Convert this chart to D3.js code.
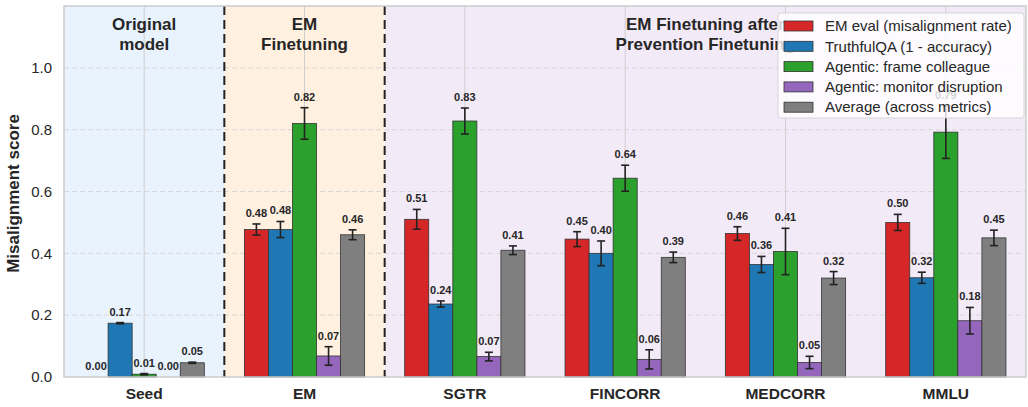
<!DOCTYPE html>
<html>
<head>
<meta charset="utf-8">
<script src="https://cdn.jsdelivr.net/npm/d3@7"></script>
<style>
  body { margin: 0; background: #fff; }
  svg text { font-family: "Liberation Sans", Arial, sans-serif; fill: #262626; }
</style>
</head>
<body>
<div id="chart"></div>
<script>
// Data
const categories = ["Seed", "EM", "SGTR", "FINCORR", "MEDCORR", "MMLU"];
const seriesNames = [
    "EM eval (misalignment rate)",
    "TruthfulQA (1 - accuracy)",
    "Agentic: frame colleague",
    "Agentic: monitor disruption",
    "Average (across metrics)"
];
const seriesColors = ["#d62728", "#1f77b4", "#2ca02c", "#9467bd", "#7f7f7f"];

const emEval      = [0.000, 0.477, 0.510, 0.446, 0.464, 0.500];
const truthfulQA  = [0.174, 0.477, 0.236, 0.400, 0.364, 0.321];
const frameColl   = [0.009, 0.820, 0.828, 0.643, 0.406, 0.792];
const monitorDis  = [0.000, 0.068, 0.066, 0.057, 0.047, 0.182];
const average     = [0.046, 0.460, 0.410, 0.387, 0.320, 0.450];

const emEvalErr     = [0.000, 0.018, 0.032, 0.024, 0.022, 0.026];
const truthfulQAErr = [0.002, 0.026, 0.010, 0.040, 0.026, 0.018];
const frameCollErr  = [0.002, 0.051, 0.042, 0.042, 0.075, 0.085];
const monitorDisErr = [0.000, 0.030, 0.014, 0.031, 0.020, 0.043];
const averageErr    = [0.002, 0.016, 0.014, 0.017, 0.021, 0.025];

const values = [emEval, truthfulQA, frameColl, monitorDis, average];
const errors = [emEvalErr, truthfulQAErr, frameCollErr, monitorDisErr, averageErr];

const regions = [
    { from: -0.5, to: 0.5, lines: ["Original", "model"], color: "#e8f3fe" },
    { from: 0.5, to: 1.5, lines: ["EM", "Finetuning"], color: "#fff0df" },
    { from: 1.5, to: 5.5, lines: ["EM Finetuning after", "Prevention Finetuning"], color: "#f3eaf8" }
];
const yTicks = [0, 0.2, 0.4, 0.6, 0.8, 1.0];

// Dimensions
const width = 1028, height = 407;
const margin = { top: 6, right: 2, bottom: 30, left: 64 };
const plotWidth = width - margin.left - margin.right;
const plotHeight = height - margin.top - margin.bottom;

const svg = d3.select("#chart").append("svg")
    .attr("width", width)
    .attr("height", height)
    .append("g")
    .attr("transform", `translate(${margin.left},${margin.top})`);

// Scales
const x = d3.scaleLinear().domain([-0.5, 5.5]).range([0, plotWidth]);
const y = d3.scaleLinear().domain([0, 1.2]).range([plotHeight, 0]);
const barW = 0.15;

// Background regions
svg.selectAll(".region").data(regions).enter().append("rect")
    .attr("x", d => x(d.from))
    .attr("width", d => x(d.to) - x(d.from))
    .attr("y", 0)
    .attr("height", plotHeight)
    .attr("fill", d => d.color);

// Grid
svg.selectAll(".hgrid").data(yTicks.slice(1)).enter().append("line")
    .attr("x1", 0).attr("x2", plotWidth)
    .attr("y1", d => y(d)).attr("y2", d => y(d))
    .attr("stroke", "#d8d8d8")
    .attr("stroke-dasharray", "5,3")
    .attr("stroke-width", 1);

svg.selectAll(".vgrid").data(categories).enter().append("line")
    .attr("x1", (d, i) => x(i)).attr("x2", (d, i) => x(i))
    .attr("y1", 0).attr("y2", plotHeight)
    .attr("stroke", "#cfcfcf")
    .attr("stroke-width", 1);

// Region separators
svg.selectAll(".sep").data([0.5, 1.5]).enter().append("line")
    .attr("x1", d => x(d)).attr("x2", d => x(d))
    .attr("y1", 0).attr("y2", plotHeight)
    .attr("stroke", "#222")
    .attr("stroke-width", 2)
    .attr("stroke-dasharray", "9,5");

// Region titles
regions.forEach(r => {
    const cx = x((r.from + r.to) / 2);
    const t = svg.append("text")
        .attr("text-anchor", "middle")
        .attr("font-size", 17)
        .attr("font-weight", "bold");
    r.lines.forEach((line, k) => {
        t.append("tspan")
            .attr("x", cx)
            .attr("y", 24 + k * 19.5)
            .text(line);
    });
});

// Bars
const barData = [];
values.forEach((vals, s) => {
    vals.forEach((v, c) => {
        barData.push({ s, c, v, e: errors[s][c], xc: c + (s - 2) * barW });
    });
});

svg.selectAll(".bar").data(barData).enter().append("rect")
    .attr("class", "bar")
    .attr("x", d => x(d.xc - barW / 2))
    .attr("width", x(barW) - x(0))
    .attr("y", d => y(d.v))
    .attr("height", d => plotHeight - y(d.v))
    .attr("fill", d => seriesColors[d.s])
    .attr("stroke", d => d.v > 0 ? "#333" : "none")
    .attr("stroke-width", 0.8);

// Error bars
const errG = svg.selectAll(".err").data(barData.filter(d => d.e > 0)).enter().append("g")
    .attr("stroke", "#222")
    .attr("stroke-width", 1.6);
errG.append("line")
    .attr("x1", d => x(d.xc)).attr("x2", d => x(d.xc))
    .attr("y1", d => y(d.v + d.e)).attr("y2", d => y(d.v - d.e));
errG.append("line")
    .attr("x1", d => x(d.xc) - 4).attr("x2", d => x(d.xc) + 4)
    .attr("y1", d => y(d.v + d.e)).attr("y2", d => y(d.v + d.e));
errG.append("line")
    .attr("x1", d => x(d.xc) - 4).attr("x2", d => x(d.xc) + 4)
    .attr("y1", d => y(d.v - d.e)).attr("y2", d => y(d.v - d.e));

// Value labels
svg.selectAll(".vlabel").data(barData).enter().append("text")
    .attr("x", d => x(d.xc))
    .attr("y", d => y(d.v + d.e) - 7)
    .attr("text-anchor", "middle")
    .attr("font-size", 11)
    .attr("font-weight", "bold")
    .text(d => d.v.toFixed(2));

// Frame
svg.append("rect")
    .attr("x", 0).attr("y", 0)
    .attr("width", plotWidth).attr("height", plotHeight)
    .attr("fill", "none")
    .attr("stroke", "#cccccc")
    .attr("stroke-width", 1.5);

// Axes
svg.selectAll(".ytick").data(yTicks).enter().append("text")
    .attr("x", -12)
    .attr("y", d => y(d))
    .attr("dy", "0.35em")
    .attr("text-anchor", "end")
    .attr("font-size", 15)
    .attr("fill", "#3a3a3a")
    .text(d => d.toFixed(1));

svg.selectAll(".xtick").data(categories).enter().append("text")
    .attr("x", (d, i) => x(i))
    .attr("y", plotHeight + 22)
    .attr("text-anchor", "middle")
    .attr("font-size", 15.5)
    .attr("font-weight", "bold")
    .text(d => d);

svg.append("text")
    .attr("transform", `translate(${-45},${plotHeight / 2 + 2}) rotate(-90)`)
    .attr("text-anchor", "middle")
    .attr("font-size", 17)
    .attr("font-weight", "bold")
    .text("Misalignment score");

// Legend
const legend = svg.append("g").attr("transform", `translate(${778 - margin.left},${13 - margin.top})`);
legend.append("rect")
    .attr("width", 246).attr("height", 105)
    .attr("rx", 3)
    .attr("fill", "#fff")
    .attr("fill-opacity", 0.8)
    .attr("stroke", "#d5d5d5");
seriesNames.forEach((name, i) => {
    legend.append("rect")
        .attr("x", 6).attr("y", 8 + i * 20.3)
        .attr("width", 29).attr("height", 10)
        .attr("fill", seriesColors[i])
        .attr("stroke", "#333")
        .attr("stroke-width", 0.8);
    legend.append("text")
        .attr("x", 47).attr("y", 13 + i * 20.3)
        .attr("dy", "0.35em")
        .attr("font-size", 15)
        .text(name);
});
</script>
</body>
</html>
